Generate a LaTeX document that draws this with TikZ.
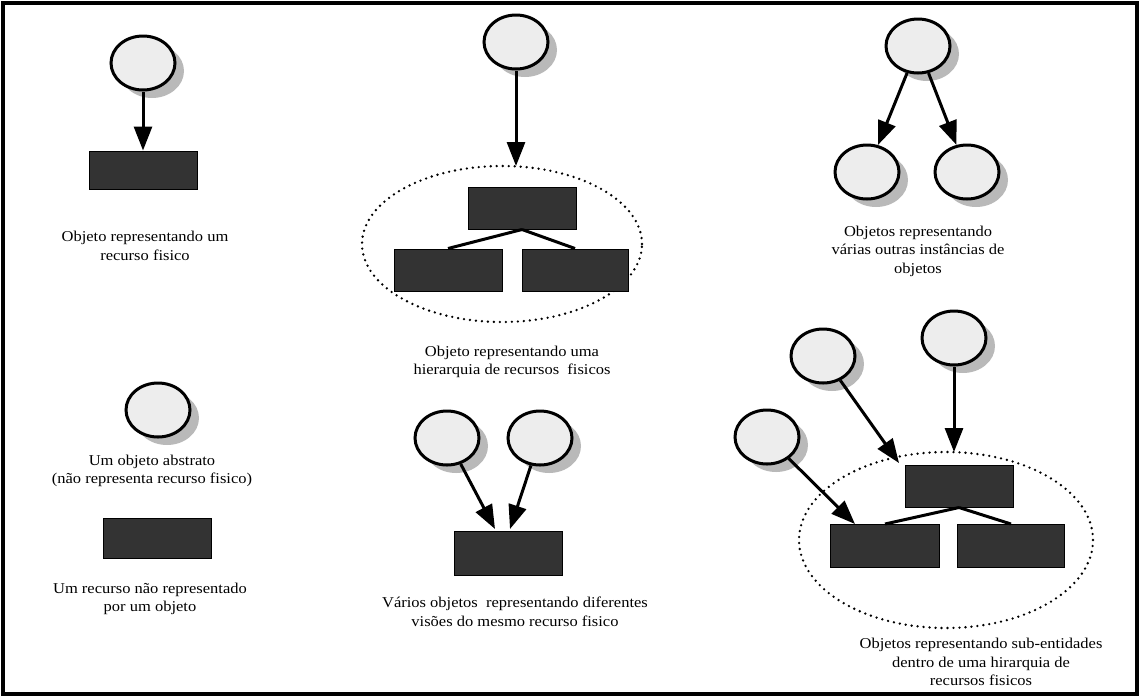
\documentclass[tikz,border=0pt]{standalone}
\usepackage{fontspec}
\setmainfont{Liberation Serif}[FakeStretch=1.1]
\usetikzlibrary{shapes.geometric,arrows.meta,shadows}
\begin{document}
\begin{tikzpicture}[x=1pt,y=-1pt,
  obj/.style={ellipse, draw, line width=3pt, fill=gray!14, minimum width=64pt, minimum height=54pt, inner sep=0pt,
    drop shadow={shadow xshift=9pt, shadow yshift=-8pt, fill=gray!55, opacity=1}},
  res/.style={rectangle, draw=black, line width=1pt, fill=black!80, minimum width=108pt, minimum height=42pt, inner sep=0pt},
  grp/.style={ellipse, draw, dash pattern=on 0pt off 6pt, line cap=round, line width=2.6pt, inner sep=0pt},
  conn/.style={line width=3pt, -{Triangle[length=24pt,width=18pt]}},
  link/.style={line width=3pt},
  lbl/.style={align=center, font=\fontsize{15}{18.5}\selectfont, inner sep=0pt},
  frame/.style={line width=3.5pt}]
\useasboundingbox (0,0) rectangle (1140,697);
\draw[frame] (3,3) rectangle (1137,694);

% group 1
\node[obj] (o1) at (143,63) {};
\node[res, minimum height=38pt] (r1) at (143,170) {};
\draw[conn] (o1) -- (r1);
\node[lbl] (t1) at (145,246) {Objeto representando um\\recurso fisico};

% group 2
\node[grp, minimum width=280pt, minimum height=156pt] (e2) at (502,244) {};
\node[obj] (o2) at (516,42) {};
\node[res] (r2a) at (522,208) {};
\node[res] (r2b) at (448,270) {};
\node[res, minimum width=106pt] (r2c) at (575,270) {};
\coordinate (e2top) at (516,166);
\draw[conn] (o2) -- (e2top);
\draw[link] (r2a.south) -- (r2b.north);
\draw[link] (r2a.south) -- (r2c.north);
\node[lbl] (t2) at (512,362) {Objeto representando uma\\hierarquia de recursos\ \ fisicos};

% group 3
\node[obj] (o3) at (918,46) {};
\node[obj] (o3a) at (867,172) {};
\node[obj] (o3b) at (967,172) {};
\draw[conn] (o3) -- (o3a);
\draw[conn] (o3) -- (o3b);
\node[lbl] (t3) at (918,251) {Objetos representando\\várias outras instâncias de\\objetos};

% group 4
\node[obj] (o4) at (158,410) {};
\node[lbl] (t4) at (152,471) {Um objeto abstrato\\(não representa recurso fisico)};
\node[res, minimum height=40pt] (r4) at (157,538) {};
\node[lbl] (t5) at (150,599) {Um recurso não representado\\por um objeto};

% group 5
\node[obj] (o5a) at (447,438) {};
\node[obj] (o5b) at (540,438) {};
\node[res, minimum height=44pt] (r5) at (508,553) {};
\coordinate (r5l) at (495,529);
\coordinate (r5r) at (510,529);
\draw[conn] (o5a) -- (r5l);
\draw[conn] (o5b) -- (r5r);
\node[lbl] (t6) at (515,612) {Vários objetos\ \ representando diferentes\\visões do mesmo recurso fisico};

% group 6
\node[grp, minimum width=294pt, minimum height=176pt] (e6) at (946,540) {};
\node[obj] (oA) at (823,356) {};
\node[obj] (oB) at (954,338) {};
\node[obj] (oC) at (767,437) {};
\node[res, minimum height=42pt] (r6a) at (959,486) {};
\node[res, minimum width=109pt, minimum height=43pt] (r6b) at (885,546) {};
\node[res, minimum width=107pt, minimum height=43pt] (r6c) at (1011,546) {};
\draw[link] (r6a.south) -- (r6b.north);
\draw[link] (r6a.south) -- (r6c.north);
\coordinate (tA) at (899,463);
\coordinate (tB) at (954,452);
\coordinate (tC) at (855,524);
\draw[conn] (oA) -- (tA);
\draw[conn] (oB) -- (tB);
\draw[conn] (oC) -- (tC);
\node[lbl] (t7) at (981,662) {Objetos representando sub-entidades\\dentro de uma hirarquia de\\recursos fisicos};
\end{tikzpicture}
\end{document}
